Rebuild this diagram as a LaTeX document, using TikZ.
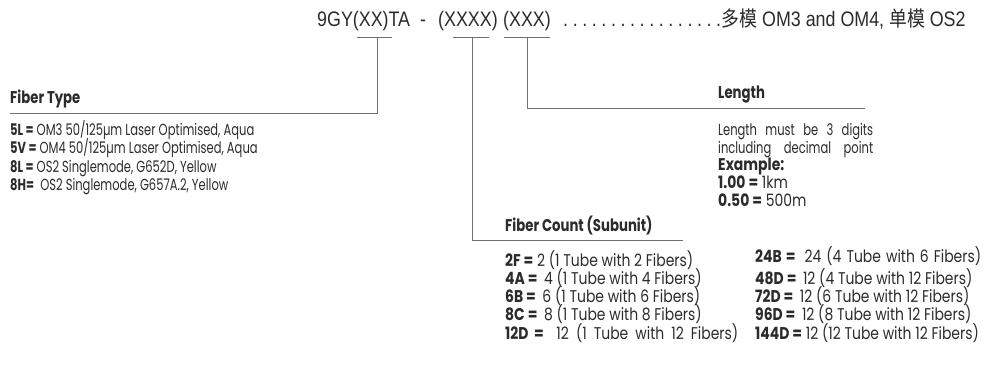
\documentclass[tikz,border=0pt]{standalone}
\usepackage{fontspec}
\setmainfont{Liberation Sans}[FakeStretch=0.85]
\newfontfamily\cjk{Noto Sans CJK SC}[FakeStretch=0.85]
\newfontfamily\condA{Poppins}[FakeStretch=0.72]
\newfontfamily\condB{Poppins}[FakeStretch=0.82]
\newfontfamily\condT{Poppins}[FakeStretch=0.78]
\definecolor{txt}{HTML}{2B2B2B}
\definecolor{ln}{HTML}{707070}
\newcommand\hdot{.\hspace{4.6pt}}
\tikzset{
  hdr/.style={anchor=base west, inner sep=0pt, text=txt, font=\fontsize{21}{24}\selectfont},
  title/.style={anchor=base west, inner sep=0pt, text=txt, font=\condT\bfseries\fontsize{17}{19}\selectfont},
  itemA/.style={anchor=base west, inner sep=0pt, text=txt, font=\condA\fontsize{16}{18}\selectfont},
  itemB/.style={anchor=base west, inner sep=0pt, text=txt, font=\condB\fontsize{17}{19}\selectfont},
  leader/.style={draw=ln, line width=1pt},
}
\begin{document}
\begin{tikzpicture}[x=1pt,y=-1pt]
\useasboundingbox (0,0) rectangle (985,372);
% header
\node[hdr] (h1) at (317,27) {9GY(XX)TA};
\node[hdr] (h2) at (420,27) {-};
\node[hdr] (h3) at (438,27) {(XXXX)};
\node[hdr] (h4) at (503,27) {(XXX)};
\node[hdr] (h5) at (563,27) {\hdot\hdot\hdot\hdot\hdot\hdot\hdot\hdot\hdot\hdot\hdot\hdot\hdot\hdot\hdot\hdot.};
\node[hdr] (h6) at (h5.base east) {{\cjk 多模} OM3 and OM4, {\cjk 单模} OS2};
% bars under the code groups
\coordinate (xxL) at (357,37); \coordinate (xxR) at (392,37); \coordinate (xxM) at (377,37);
\coordinate (x4L) at (453,37); \coordinate (x4R) at (489,37); \coordinate (x4M) at (472,37);
\coordinate (x3L) at (504,37); \coordinate (x3R) at (550,37); \coordinate (x3M) at (527,37);
\draw[leader] (xxL) -- (xxR);
\draw[leader] (x4L) -- (x4R);
\draw[leader] (x3L) -- (x3R);
% Fiber Type
\node[title] (ft) at (10,103) {Fiber Type};
\coordinate (ftL) at (10,113);
\coordinate (ftC) at (377,113);
\draw[leader] (xxM) -- (ftC) -- (ftL);
\node[itemA] (ft1) at (10,135) {\textbf{5L =} OM3 50/125µm Laser Optimised, Aqua};
\node[itemA] (ft2) at (10,153) {\textbf{5V =} OM4 50/125µm Laser Optimised, Aqua};
\node[itemA] (ft3) at (10,172) {\textbf{8L =} OS2 Singlemode, G652D, Yellow};
\node[itemA] (ft4) at (10,190) {\textbf{8H=}\ \ OS2 Singlemode, G657A.2, Yellow};
% Length
\node[title] (len) at (718,98) {Length};
\coordinate (lnC) at (527,108);
\coordinate (lnR) at (865,108);
\draw[leader] (x3M) -- (lnC) -- (lnR);
\node[itemA] (l1) at (718,135) {\makebox[155pt][s]{Length must be 3 digits}};
\node[itemA] (l2) at (718,153) {\makebox[155pt][s]{including decimal point}};
\node[itemB] (l3) at (718,170) {\textbf{Example:}};
\node[itemB] (l4) at (718,188) {\textbf{1.00 =} 1km};
\node[itemB] (l5) at (718,206) {\textbf{0.50 =} 500m};
% Fiber Count
\node[title] (fc) at (505,231) {Fiber Count (Subunit)};
\coordinate (fcC) at (472,240);
\coordinate (fcR) at (683,240);
\draw[leader] (x4M) -- (fcC) -- (fcR);
\node[itemB] (c1) at (505,266) {\textbf{2F =} 2 (1 Tube with 2 Fibers)};
\node[itemB] (c2) at (505,284) {\textbf{4A =} \,4 (1 Tube with 4 Fibers)};
\node[itemB] (c3) at (505,302) {\textbf{6B =} \,6 (1 Tube with 6 Fibers)};
\node[itemB] (c4) at (505,320) {\textbf{8C =} \,8 (1 Tube with 8 Fibers)};
\node[itemB] (c5) at (505,339) {\makebox[233pt][s]{\textbf{12D = } 12 (1 Tube with 12 Fibers)}};
\node[itemB] (d1) at (755,262) {\makebox[226pt][s]{\textbf{24B = } 24 (4 Tube with 6 Fibers)}};
\node[itemB] (d2) at (755,284) {\textbf{48D =} \,12 (4 Tube with 12 Fibers)};
\node[itemB] (d3) at (755,302) {\textbf{72D =} \,12 (6 Tube with 12 Fibers)};
\node[itemB] (d4) at (755,320) {\textbf{96D =} \,12 (8 Tube with 12 Fibers)};
\node[itemB] (d5) at (755,339) {\textbf{144D =} 12 (12 Tube with 12 Fibers)};
\end{tikzpicture}
\end{document}
